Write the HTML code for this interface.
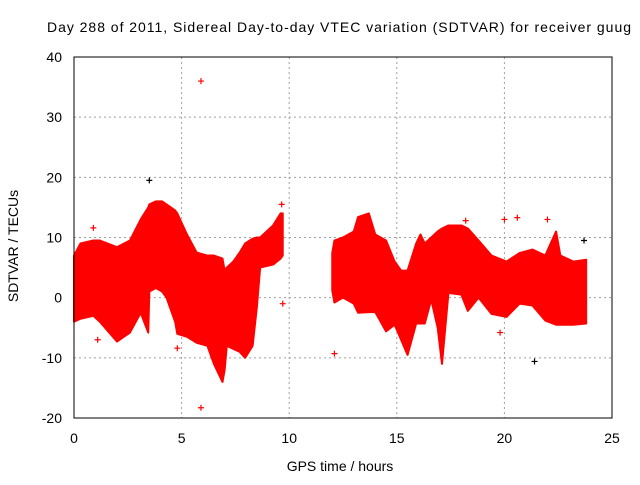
<!DOCTYPE html>
<html><head><meta charset="utf-8"><style>
body{margin:0;background:#fff;}
svg text{font-family:"Liberation Sans",sans-serif;font-size:14px;fill:#000;}
</style></head><body>
<svg id="chart" width="640" height="480" viewBox="0 0 640 480" xmlns="http://www.w3.org/2000/svg">
<rect width="640" height="480" fill="#fff"/>
<text x="47" y="32" textLength="584" lengthAdjust="spacing">Day 288 of 2011, Sidereal Day-to-day VTEC variation (SDTVAR) for receiver guug</text>
<g id="grid"></g>
<g id="marks"></g>
<rect x="74" y="57" width="538" height="361" fill="none" stroke="#000" stroke-width="1"/>
<g id="ticks"></g>
<text x="340" y="471" text-anchor="middle">GPS time / hours</text>
<text transform="translate(18,246) rotate(-90)" text-anchor="middle">SDTVAR / TECUs</text>
</svg>
<script>
const xTicks=[0,5,10,15,20,25];
const yTicks=[-20,-10,0,10,20,30,40];
const seg1Time=[0,0.3,0.9,1.2,2.0,2.6,3.1,3.45,3.5,3.8,4.1,4.3,4.7,4.8,5.25,5.7,6.2,6.5,6.9,7.0,7.1,7.4,7.7,7.95,8.3,8.5,8.65,9.25,9.6,9.7];
const seg1Upper=[7,9,9.5,9.5,8.4,9.5,13,15,15.5,16,16,15.5,14.5,14,10.5,7.5,7,7,6.5,4.5,5,6,7.5,9,9.8,10,10,12,14,14];
const seg1Lower=[-4,-3.5,-3,-4,-7.3,-5.8,-2.5,-5.8,1,1.6,1,0,-4,-6,-6.5,-7.5,-8,-11,-14,-12,-8,-8.5,-9,-10,-8,-1.5,5,5.5,6.5,7];
const seg2Time=[12.0,12.1,12.5,13.0,13.2,13.7,14.0,14.5,14.9,15.2,15.5,15.9,16.1,16.3,16.6,16.9,17.1,17.4,18.0,18.3,18.8,19.4,20.1,20.7,21.3,21.9,22.4,22.6,23.2,23.8];
const seg2Upper=[7.4,9.5,10,11,13.4,14,10.5,9.5,6,4.5,4.5,9,10.5,9,10,11,11.5,12,12,11.5,9.5,7,6,7.4,8,7,11,7,6,6.3];
const seg2Lower=[1.2,-0.8,0,-1,-2.5,-2.4,-2.4,-5.6,-4.5,-7,-9.5,-4.3,-4.3,-4.3,-0.3,-5,-11,0.8,0.5,-2.2,0,-2.7,-3.2,-1,-1.3,-3.8,-4.5,-4.5,-4.5,-4.3];
const outlierTime=[5.9,5.9,0.9,1.1,4.8,12.1,18.2,20.0,20.6,22.0,19.8,9.65,9.7];
const outlierValue=[36,-18.3,11.6,-7,-8.4,-9.3,12.8,13,13.3,13,-5.8,15.5,-1];
const blackTime=[3.5,23.7,21.4];
const blackValue=[19.5,9.5,-10.6];
const NS="http://www.w3.org/2000/svg";
function X(t){return 74+t*(612-74)/25;}
function Y(v){return 418-(v+20)*(418-57)/60;}
const grid=document.getElementById('grid'),marks=document.getElementById('marks'),ticks=document.getElementById('ticks');
function mk(tag,attrs,parent){const e=document.createElementNS(NS,tag);for(const k in attrs)e.setAttribute(k,attrs[k]);parent.appendChild(e);return e;}
xTicks.forEach(t=>{
  if(t>0&&t<25){const g=mk('line',{x1:X(t),x2:X(t),y1:57,y2:418,stroke:'#a0a0a0','stroke-dasharray':'2,3'},grid);
  
  }
  const l=mk('text',{x:X(t),y:443,'text-anchor':'middle'},ticks);l.textContent=t;
  
  
});
yTicks.forEach(v=>{
  if(v>-20&&v<40){const g=mk('line',{x1:74,x2:612,y1:Y(v),y2:Y(v),stroke:'#a0a0a0','stroke-dasharray':'2,3'},grid);
  
  }
  const l=mk('text',{x:62,y:Y(v)+5,'text-anchor':'end'},ticks);l.textContent=v;
  
  
});
function band(T,U,L,name){
  let pts=T.map((t,i)=>X(t)+','+Y(U[i]));
  for(let i=T.length-1;i>=0;i--)pts.push(X(T[i])+','+Y(L[i]));
  const p=mk('polygon',{points:pts.join(' '),fill:'#ff0000',stroke:'#ff0000','stroke-width':2,'stroke-linejoin':'round'},marks);
  
  
}
band(seg1Time,seg1Upper,seg1Lower,'sdtvar-band-morning');
band(seg2Time,seg2Upper,seg2Lower,'sdtvar-band-afternoon');
function cross(t,v,col){
  const x=X(t),y=Y(v);
  const p=mk('path',{d:`M${x-3},${y}H${x+3}M${x},${y-3}V${y+3}`,stroke:col,'stroke-width':1.2},marks);
  
  
}
outlierTime.forEach((t,i)=>cross(t,outlierValue[i],'#ff0000'));
blackTime.forEach((t,i)=>cross(t,blackValue[i],'#000'));
</script>
</body></html>
